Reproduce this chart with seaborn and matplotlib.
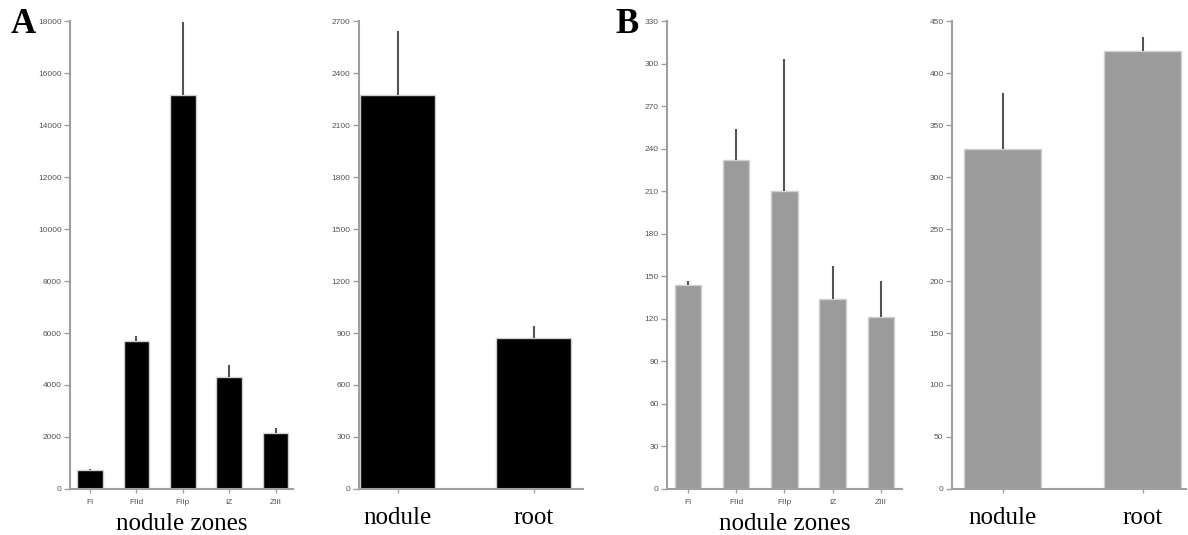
import numpy as np
import pandas as pd
import matplotlib
matplotlib.use("Agg")
import matplotlib.pyplot as plt
import seaborn as sns

# -------------------------------
# DATA
# -------------------------------
zones = ["FI", "FIId", "FIIp", "IZ", "ZIII"]
tissues = ["nodule", "root"]

# panel A (black bars)
a_zone_mean = [720, 5700, 15150, 4300, 2170]
a_zone_err = [40, 180, 2800, 450, 160]
a_tissue_mean = [2272, 874]
a_tissue_err = [372, 65]

# panel B (gray bars)
b_zone_mean = [143.5, 232, 210, 134, 121]
b_zone_err = [3, 22, 93, 23.5, 25.5]
b_tissue_mean = [327, 421]
b_tissue_err = [54, 14]

# -------------------------------
# STYLE
# -------------------------------
sns.set_style("ticks")
plt.rcParams["font.family"] = ["Liberation Sans", "DejaVu Sans"]

spine_col = "#a0a0a0"
err_col = "#555555"
tick_txt = "#555555"

fig = plt.figure(figsize=(11.88, 5.35), dpi=100)

bottom, height = 0.086, 0.8747
axes_pos = [
    [0.0589, bottom, 0.1877, height],
    [0.3022, bottom, 0.1886, height],
    [0.5614, bottom, 0.1978, height],
    [0.8013, bottom, 0.1970, height],
]

panels = [
    (zones, a_zone_mean, a_zone_err, "black", 18000, 2000, (-0.43, 4.375)),
    (tissues, a_tissue_mean, a_tissue_err, "black", 2700, 300, (-0.283, 1.36)),
    (zones, b_zone_mean, b_zone_err, "#9b9b9b", 330, 30, (-0.435, 4.435)),
    (tissues, b_tissue_mean, b_tissue_err, "#9b9b9b", 450, 50, (-0.364, 1.31)),
]

for pos, (cats, mean, err, col, top, step, xl) in zip(axes_pos, panels):
    ax = fig.add_axes(pos)
    df = pd.DataFrame({"cat": cats, "val": mean})
    sns.barplot(data=df, x="cat", y="val", order=cats, color=col,
                width=0.55, edgecolor="#d0d0d0", linewidth=1.0,
                saturation=1, ax=ax)
    xs = np.arange(len(cats))
    ax.errorbar(xs, mean, yerr=[np.zeros(len(err)), err], fmt="none",
                ecolor=err_col, elinewidth=1.5, capsize=0, zorder=1)
    ax.set_ylim(0, top)
    ax.set_xlim(*xl)
    ax.set_yticks(np.arange(0, top + 1, step))
    ax.set_ylabel("")
    ax.set_xlabel("")
    sns.despine(ax=ax)
    for s in ["left", "bottom"]:
        ax.spines[s].set_color(spine_col)
        ax.spines[s].set_linewidth(1.5)
    ax.tick_params(axis="y", length=4, width=1, color=spine_col,
                   labelsize=6, labelcolor=tick_txt, pad=2)
    ax.tick_params(axis="x", length=3, width=1, color=spine_col, pad=4)
    if len(cats) == 5:
        ax.tick_params(axis="x", labelsize=6, labelcolor=tick_txt)
        ax.set_xlabel("nodule zones", fontsize=18, family="Liberation Serif",
                      color="black", labelpad=5)
    else:
        for lab in ax.get_xticklabels():
            lab.set_fontfamily("Liberation Serif")
            lab.set_fontsize(18)
            lab.set_color("black")
        ax.tick_params(axis="x", pad=10)

fig.text(0.0195, 0.938, "A", fontsize=25, fontweight="bold", color="black",
         family="Liberation Serif", ha="center", va="baseline")
fig.text(0.5275, 0.938, "B", fontsize=25, fontweight="bold", color="black",
         family="Liberation Serif", ha="center", va="baseline")

fig.savefig("out.png", dpi=100)
